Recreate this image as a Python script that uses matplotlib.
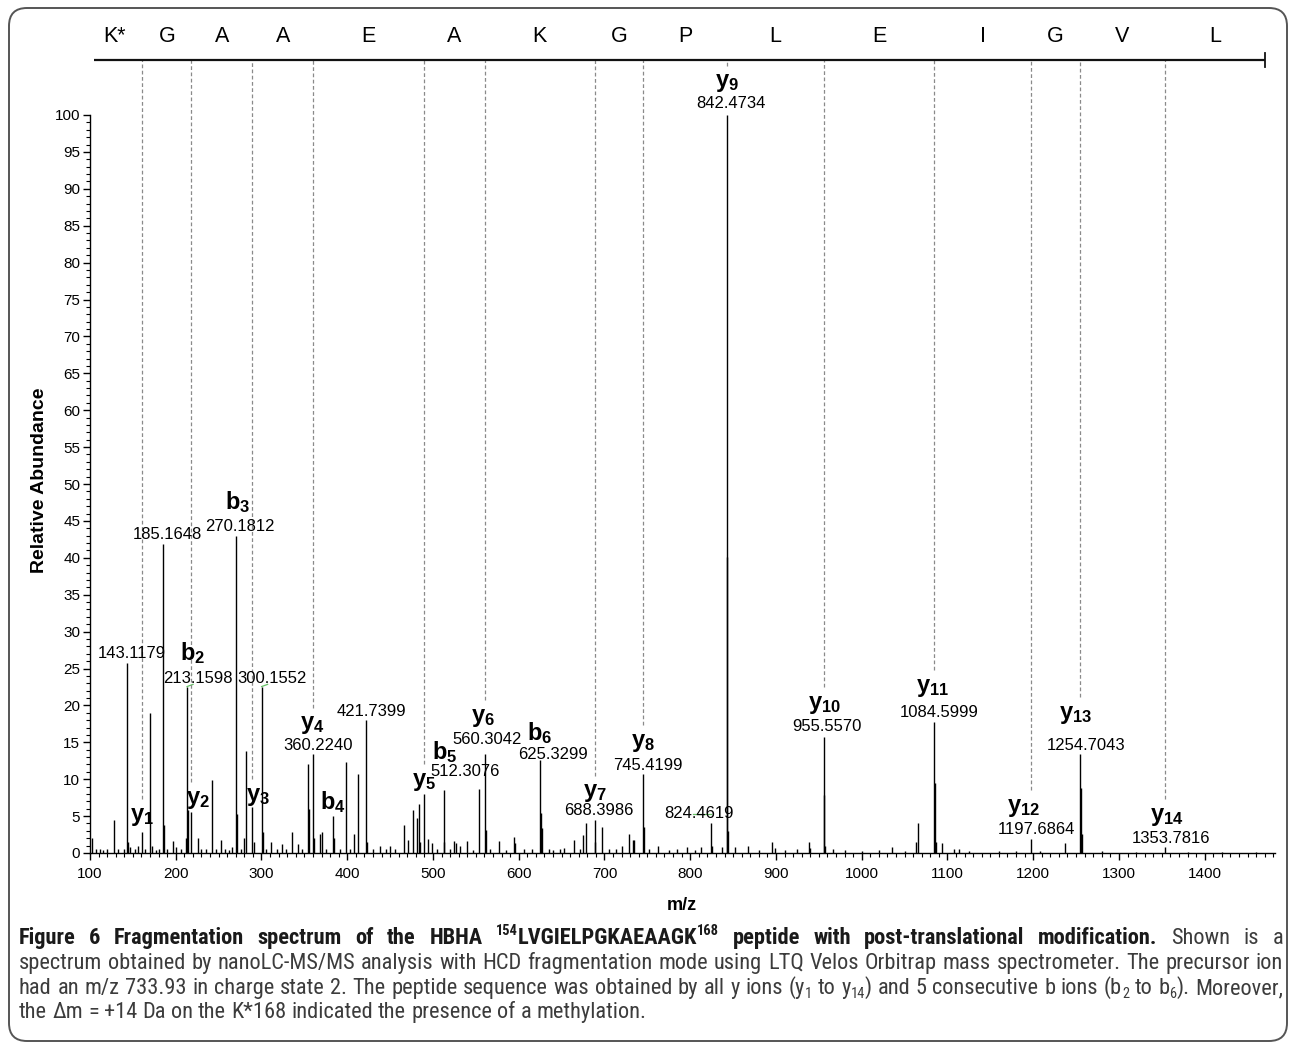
import re
import matplotlib
matplotlib.use('Agg')
import matplotlib.pyplot as plt
import matplotlib.font_manager as fm
from matplotlib.font_manager import FontProperties
from matplotlib.patches import FancyBboxPatch
from matplotlib.transforms import IdentityTransform
from matplotlib.ticker import MultipleLocator

W, H = 1290, 1045

# peptide read from the C-terminus, one letter between each pair of y ions
residues = ['K*', 'G', 'A', 'A', 'E', 'A', 'K', 'G', 'P', 'L', 'E', 'I', 'G', 'V', 'L']
y_ion_mz = [161.13, 218.15, 289.19, 360.22, 489.27, 560.30, 688.40, 745.42,
            842.47, 955.56, 1084.60, 1197.69, 1254.70, 1353.78]
y_label_h = [4.9, 7.2, 7.6, 17.3, 9.6, 18.3, 8.1, 14.9, 104.3, 20.1, 22.4, 6.1, 18.7, 4.9]
y_label_dx = [0, 8, 7, -1, 0, -2, 0, 0, 1, 1, -2, -9, -5, 2]
seq_start, seq_end = 97, 1470

b_ion_num = [2, 3, 4, 5, 6]
b_ion_mz = [213.16, 270.18, 383.27, 512.31, 625.33]
b_label_h = [27.1, 47.6, 6.9, 13.7, 16.2]
b_label_dx = [6, 2, 0, 1, -1]

# annotated peaks (m/z, relative abundance) and label offsets
ann_mz = [143.1179, 185.1648, 213.1598, 270.1812, 300.1552, 360.2240, 421.7399,
          512.3076, 560.3042, 625.3299, 688.3986, 745.4199, 824.4619, 842.4734,
          955.5570, 1084.5999, 1197.6864, 1254.7043, 1353.7816]
ann_h = [25.7, 41.9, 22.5, 43.0, 22.5, 13.4, 18.0, 8.5, 13.4, 12.6, 4.5, 10.7,
         4.1, 100.0, 15.7, 17.8, 1.9, 13.4, 0.8]
ann_dx = [6, 5, 13, 5, 12, 6, 6, 25, 3, 15, 5, 5, -14, 5, 4, 6, 6, 7, 7]
ann_dy = [1.4, 1.3, 1.2, 1.2, 1.2, 1.2, 1.2, 2.5, 2.0, 0.7, 1.2, 1.2, 1.3, 1.6,
          1.4, 1.2, 1.35, 1.2, 1.2]

# unlabelled ion peaks and the rest of the spectrum
ion_peaks = [(161.13, 2.8), (218.15, 5.5), (289.19, 6.2), (383.27, 5.0), (489.27, 8.0)]
other_peaks = [
    (102, 2.0), (107, 0.5), (112, 0.6), (115, 0.4), (120, 0.5), (127.8, 4.5), (133, 0.5),
    (140, 0.6), (143.9, 1.5), (147, 0.8), (152, 0.5), (156, 1.0), (164, 0.5), (170.3, 19.0),
    (172, 1.0), (177, 0.4), (180, 0.6), (186.2, 3.8), (190, 0.5), (197, 1.6), (200, 0.8),
    (206, 0.5), (211.5, 2.0), (214.3, 5.8), (225.5, 2.0), (230, 0.5), (235, 0.5),
    (242.2, 9.9), (247, 0.6), (252.6, 1.8), (258, 0.5), (262, 0.4), (266, 0.8),
    (271.2, 5.3), (276, 0.6), (279.5, 2.0), (282.0, 13.8), (291, 1.5), (301.2, 2.8),
    (305, 0.6), (310.6, 1.5), (318, 0.6), (324, 1.2), (329, 0.5), (336, 2.8), (343, 1.2),
    (347, 0.5), (354.5, 12.1), (355.6, 6.0), (361.2, 2.0), (368, 2.6), (371, 2.8),
    (375, 0.6), (384.3, 2.0), (391, 0.5), (398.3, 12.3), (403, 0.6), (408, 2.6),
    (412, 10.7), (422.7, 1.5), (430, 0.6), (438, 1.0), (445, 0.5), (450, 1.0), (456, 0.5),
    (466.4, 3.8), (471, 1.8), (476.8, 5.8), (481, 4.7), (483.4, 6.6), (485, 1.5),
    (494.5, 1.9), (498.5, 1.4), (505, 0.5), (513.3, 1.5), (520, 0.5), (525, 1.6),
    (527, 1.4), (532, 1.0), (540, 1.6), (547, 0.4), (553.3, 8.7), (561.3, 3.1), (567, 0.5),
    (577, 1.6), (585, 0.4), (594, 2.2), (596, 1.3), (606, 0.6), (615, 0.5), (626.3, 5.4),
    (627.5, 3.4), (635, 0.5), (640, 0.4), (648, 0.5), (653, 0.7), (664, 1.8), (672, 0.6),
    (675, 2.4), (679, 4.1), (689.4, 1.5), (697, 3.5), (705, 0.6), (713, 0.5), (720, 1.0),
    (729, 2.6), (733, 1.8), (735, 1.7), (746.4, 3.5), (752, 0.5), (763, 1.0), (775, 0.4),
    (785, 0.5), (796, 0.8), (805, 0.4), (813, 0.8), (825.5, 1.0), (837, 0.8),
    (843.47, 40.1), (844.5, 3.0), (852, 0.8), (867, 1.0), (880, 0.4), (895, 1.5),
    (899, 0.7), (910, 0.4), (925, 0.6), (938, 1.5), (940, 0.7), (956.56, 7.9),
    (957.6, 1.0), (966, 0.6), (980, 0.4), (1000, 0.3), (1020, 0.4), (1035, 0.8),
    (1050, 0.3), (1063.5, 1.5), (1066.2, 4.0), (1085.6, 9.5), (1086.6, 1.5), (1094, 1.3),
    (1108, 0.6), (1113, 0.6), (1125, 0.3), (1160, 0.3), (1180, 0.3), (1208, 0.3),
    (1237.5, 1.3), (1255.7, 8.8), (1256.7, 2.6), (1280, 0.3), (1320, 0.2), (1380, 0.2),
    (1420, 0.2), (1460, 0.2),
]

caption_lines = [
    [("Figure 6 Fragmentation spectrum of the HBHA ^{154}LVGIELPGKAEAAGK^{168} peptide "
      "with post-translational modification.", True), ("Shown is a", False)],
    [("spectrum obtained by nanoLC-MS/MS analysis with HCD fragmentation mode using LTQ "
      "Velos Orbitrap mass spectrometer. The precursor ion", False)],
    [("had an m/z 733.93 in charge state 2. The peptide sequence was obtained by all y "
      "ions (y_{1} to y_{14}) and 5 consecutive b ions (b_{2} to b_{6}). Moreover,", False)],
    [("the \u0394m = +14 Da on the K*168 indicated the presence of a methylation.", False)],
]
caption_justify = [True, True, True, False]
caption_baselines = [944, 969, 994, 1018]

# ---------------------------------------------------------------------
plt.rcParams['font.family'] = ['Liberation Sans', 'DejaVu Sans']
plt.rcParams['mathtext.fontset'] = 'custom'
plt.rcParams['mathtext.bf'] = 'Liberation Sans:bold'
plt.rcParams['mathtext.rm'] = 'Liberation Sans'

fig = plt.figure(figsize=(W / 100, H / 100), dpi=100)
ax = fig.add_axes([90 / W, 1 - 853 / H, 1185 / W, 738 / H])
ax.set_xlim(100, 1482)
ax.set_ylim(0, 100)

all_mz = ann_mz + [p[0] for p in ion_peaks] + [p[0] for p in other_peaks]
all_h = ann_h + [p[1] for p in ion_peaks] + [p[1] for p in other_peaks]
ax.vlines(all_mz, 0, all_h, color='black', lw=1.0)

for mz, h, dx, dy in zip(ann_mz, ann_h, ann_dx, ann_dy):
    ax.text(mz + dx, h + dy, f'{mz:.4f}', ha='center', va='center', fontsize=12,
            clip_on=False)

# small green leader marks
for mz, h in zip(ann_mz, ann_h):
    if mz in (213.1598, 300.1552):
        ax.plot([mz, mz + 7], [h + 0.05, h + 0.35], color='#66c266', lw=0.9)
    if mz == 824.4619:
        ax.plot([mz - 21, mz], [h + 1.25, h + 1.25], color='#66c266', lw=0.9)

# ion labels
for i, (mz, lh, dx) in enumerate(zip(y_ion_mz, y_label_h, y_label_dx)):
    ax.text(mz + dx, lh, r'$\mathbf{y_{%d}}$' % (i + 1), ha='center', va='center',
            fontsize=17, clip_on=False)
for n, mz, lh, dx in zip(b_ion_num, b_ion_mz, b_label_h, b_label_dx):
    ax.text(mz + dx, lh, r'$\mathbf{b_{%d}}$' % n, ha='center', va='center',
            fontsize=17, clip_on=False)

# sequence bar on top
bar_h = 107.45
dash_bottom = [h + 2.4 for h in y_label_h]
ax.vlines(y_ion_mz, dash_bottom, bar_h, colors='#8a8a8a', lw=0.9,
          linestyles=(0, (3, 2)), clip_on=False)
ax.plot([105, seq_end], [bar_h, bar_h], color='#111111', lw=1.6, clip_on=False,
        solid_capstyle='butt')
ax.plot([seq_end, seq_end], [bar_h - 0.95, bar_h + 0.95], color='#111111', lw=1.3,
        clip_on=False)
bounds = [seq_start] + y_ion_mz + [seq_end]
for k, res in enumerate(residues):
    ax.text((bounds[k] + bounds[k + 1]) / 2, 110.6, res, ha='center', va='center',
            fontsize=15.5, clip_on=False)

ax.spines['top'].set_visible(False)
ax.spines['right'].set_visible(False)
ax.spines['left'].set_linewidth(1.0)
ax.spines['bottom'].set_linewidth(1.0)
ax.xaxis.set_major_locator(MultipleLocator(100))
ax.xaxis.set_minor_locator(MultipleLocator(10))
ax.yaxis.set_major_locator(MultipleLocator(5))
ax.yaxis.set_minor_locator(MultipleLocator(1))
ax.tick_params(which='major', direction='out', length=5, width=1.0, labelsize=11)
ax.tick_params(which='minor', direction='out', length=3, width=0.8)
ax.tick_params(axis='x', pad=5)
ax.tick_params(axis='y', pad=2)

fig.text(40 / W, 1 - 480 / H, 'Relative Abundance', rotation=90, fontsize=14,
         fontweight='bold', ha='center', va='center')
fig.text(682 / W, 1 - 905 / H, 'm/z', fontsize=13, fontweight='bold', ha='center',
         va='center')

# rounded frame round the whole figure
frame = FancyBboxPatch((9, H - 1041), 1278, 1033, boxstyle='round,pad=0,rounding_size=18',
                       transform=IdentityTransform(), fill=False, edgecolor='#555555',
                       lw=1.4)
fig.add_artist(frame)

# caption, justified line by line
avail = {f.name for f in fm.fontManager.ttflist}
cap_family = next(f for f in ['Liberation Sans Narrow', 'Roboto Condensed',
                              'Liberation Sans'] if f in avail or f == 'Liberation Sans')
renderer = fig.canvas.get_renderer()


def text_w(s, size, bold):
    prop = FontProperties(family=cap_family, size=size, weight='bold' if bold else 'normal')
    return renderer.get_text_width_height_descent(s, prop, ismath=False)[0]


def split_words(chunks):
    words = []
    for text, bold in chunks:
        for w in text.split(' '):
            runs = []
            for p in re.split(r'(_\{[^}]*\}|\^\{[^}]*\})', w):
                if not p:
                    continue
                if p.startswith('_{'):
                    runs.append((p[2:-1], 'sub'))
                elif p.startswith('^{'):
                    runs.append((p[2:-1], 'sup'))
                else:
                    runs.append((p, 'n'))
            words.append((runs, bold))
    return words


def word_w(word, size):
    runs, bold = word
    return sum(text_w(t, size * (0.65 if st != 'n' else 1), bold) for t, st in runs)


def space_w(size, bold):
    return text_w('a a', size, bold) - text_w('aa', size, bold)


line_words = [split_words(c) for c in caption_lines]
x0, x1 = 19, 1283
s0 = 10
sizes = []
for words, just in zip(line_words, caption_justify):
    if just:
        nat = sum(word_w(w, s0) for w in words) + space_w(s0, False) * (len(words) - 1)
        sizes.append(s0 * (x1 - x0) / nat)
cap_size = min(sizes) * 0.985

for words, just, base in zip(line_words, caption_justify, caption_baselines):
    widths = [word_w(w, cap_size) for w in words]
    if just:
        gap = (x1 - x0 - sum(widths)) / (len(words) - 1)
    else:
        gap = space_w(cap_size, False)
    x = x0
    for w, wd in zip(words, widths):
        runs, bold = w
        xx = x
        for t, st in runs:
            sz = cap_size * (0.65 if st != 'n' else 1)
            off = {'n': 0, 'sup': 0.38 * cap_size, 'sub': -0.18 * cap_size}[st] * 100 / 72
            fig.text(xx / W, 1 - (base - off) / H, t, fontsize=sz, family=cap_family,
                     fontweight='bold' if bold else 'normal', ha='left', va='baseline',
                     color='#1a1a1a' if bold else '#3c3c3c')
            xx += text_w(t, sz, bold)
        x += wd + gap

fig.savefig('out.png', dpi=100)
